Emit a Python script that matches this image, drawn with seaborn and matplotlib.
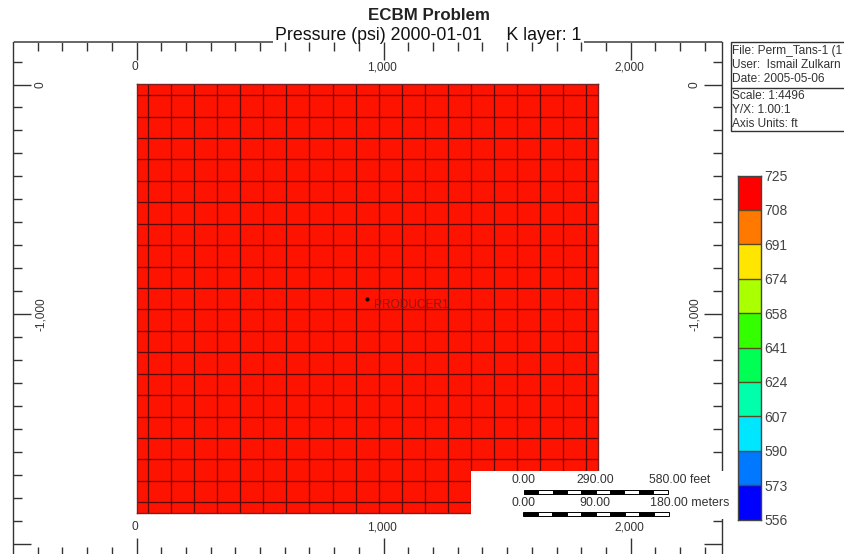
import numpy as np
import matplotlib
matplotlib.use("Agg")
import matplotlib.pyplot as plt
from matplotlib.colors import ListedColormap, BoundaryNorm
from matplotlib.patches import Rectangle
from matplotlib.ticker import MultipleLocator
import seaborn as sns

# ---- data ----
title_line1 = "ECBM Problem"
title_line2 = "Pressure (psi) 2000-01-01     K layer: 1"
legend_levels = [725, 708, 691, 674, 658, 641, 624, 607, 590, 573, 556]
legend_colors = ["#ff0000", "#ff7800", "#ffe600", "#aaff00", "#33ff00",
                 "#00ff55", "#00ffaa", "#00e6ff", "#0078ff", "#0000ff"]
grid_cells = 20              # blocks per side
grid_block_ft = 93.33        # block size, ft
block_pressure = 725         # uniform initial pressure
well_name = "PRODUCER1"
well_x = [933]
well_y = [-933]
x_major = [0, 1000, 2000]
y_major = [0, -1000]
info_top = ["File: Perm_Tans-1 (1", "User:  Ismail Zulkarn", "Date: 2005-05-06"]
info_bottom = ["Scale: 1:4496", "Y/X: 1.00:1", "Axis Units: ft"]
feet_labels = ["0.00", "290.00", "580.00 feet"]
meter_labels = ["0.00", "90.00", "180.00 meters"]
scale_segments = 10

W, H = 844, 554
sns.set_theme(style="white")
plt.rcParams["font.family"] = ["Liberation Sans", "DejaVu Sans"]
fig = plt.figure(figsize=(W / 100, H / 100), dpi=100, facecolor="white")


def axpos(x0, y0, x1, y1):
    return [x0 / W, 1 - y1 / H, (x1 - x0) / W, (y1 - y0) / H]


# ---- framed map axes (feet) ----
GREY = "#333333"
L, R, T, B = 13.5, 721.5, 42.0, 556.0
sx, sy = 0.2471, 0.2296
ax = fig.add_axes(axpos(L, T, R, B))
ax.set_facecolor("white")
ax.set_xlim((L - 136.5) / sx, (R - 136.5) / sx)
ax.set_ylim((84.5 - B) / sy, (84.5 - T) / sy)
ax.xaxis.set_major_locator(MultipleLocator(1000))
ax.xaxis.set_minor_locator(MultipleLocator(100))
ax.yaxis.set_major_locator(MultipleLocator(1000))
ax.yaxis.set_minor_locator(MultipleLocator(100))
ax.tick_params(which="major", direction="in", length=13, width=1, color=GREY,
               top=True, bottom=True, left=True, right=True,
               labelbottom=False, labelleft=False)
ax.tick_params(which="minor", direction="in", length=6.3, width=1, color=GREY,
               top=True, bottom=True, left=True, right=True)
for s in ax.spines.values():
    s.set_color(GREY)
    s.set_linewidth(1)
ax.spines["top"].set_visible(False)
ymax = ax.get_ylim()[1]
xmin, xmax = ax.get_xlim()
gap = ((273 - 136.5) / sx, (584 - 136.5) / sx)
ax.hlines(ymax, xmin, gap[0], color="#666666", lw=1.4, clip_on=False)
ax.hlines(ymax, gap[1], xmax, color="#666666", lw=1.4, clip_on=False)

tick_txt = dict(fontsize=8.6, color="#333333", ha="center", va="center",
                textcoords="offset pixels", annotation_clip=False)
for v in x_major:
    ax.annotate(f"{v:,}", xy=(v, 1), xycoords=("data", "axes fraction"),
                xytext=(-1.5, -25), **tick_txt)
    ax.annotate(f"{v:,}", xy=(v, 0), xycoords=("data", "axes fraction"),
                xytext=(-1.5, 29), **tick_txt)
for v in y_major:
    ax.annotate(f"{v:,}", xy=(0, v), xycoords=("axes fraction", "data"),
                xytext=(27, 0), rotation=90, **tick_txt)
    ax.annotate(f"{v:,}", xy=(1, v), xycoords=("axes fraction", "data"),
                xytext=(-26.5, 0), rotation=90, **tick_txt)

# ---- simulation grid: half-block rim, drawn on half-block heatmap cells ----
extent = grid_cells * grid_block_ft
gax = ax.inset_axes([0, -extent, extent, extent], transform=ax.transData)
field = np.full((2 * grid_cells, 2 * grid_cells), block_pressure, dtype=float)
sns.heatmap(field, ax=gax, cmap=ListedColormap(["#fe1200"]), cbar=False,
            xticklabels=False, yticklabels=False)
lines = np.arange(1, 2 * grid_cells, 2)
gax.vlines(lines, 0, 2 * grid_cells, color="#5a0a0a", lw=0.9)
gax.hlines(lines, 0, 2 * grid_cells, color="#5a0a0a", lw=0.9)
for s in gax.spines.values():
    s.set_visible(True)
    s.set_color("#7a2020")
    s.set_linewidth(1)

# well on a transparent twin covering the same feet coordinates
wax = fig.add_axes(ax.get_position(), facecolor="none")
wax.set_xlim(ax.get_xlim())
wax.set_ylim(ax.get_ylim())
wax.axis("off")
sns.scatterplot(x=well_x, y=well_y, ax=wax, color="#200000", s=9, linewidth=0,
                legend=False)
wax.annotate(well_name, xy=(well_x[0], well_y[0]), xytext=(6.5, -6),
             textcoords="offset pixels", fontsize=8.6, color="#8a1818",
             ha="left", va="center")

# ---- colour legend ----
lax = fig.add_axes(axpos(738, 175.5, 760.5, 519.5))
mids = np.array([(a + b) / 2 for a, b in zip(legend_levels[:-1], legend_levels[1:])]).reshape(-1, 1)
norm = BoundaryNorm(legend_levels[::-1], len(legend_colors))
sns.heatmap(mids, ax=lax, cmap=ListedColormap(legend_colors[::-1]), norm=norm,
            cbar=False, linewidths=0, xticklabels=False)
lax.hlines(np.arange(1, len(legend_colors)), 0, 1, color="#5a4a20", lw=1)
lax.yaxis.tick_right()
lax.set_yticks(np.arange(len(legend_levels)))
lax.set_yticklabels(legend_levels, rotation=0, fontsize=10, color="#444444")
lax.tick_params(axis="y", length=0, pad=2.6, right=False)
for s in lax.spines.values():
    s.set_visible(True)
    s.set_color("#444444")
    s.set_linewidth(1)

# ---- overlay in pixel coordinates: titles, info box, scale bars ----
ov = fig.add_axes([0, 0, 1, 1], facecolor="none")
ov.set_xlim(0, W)
ov.set_ylim(H, 0)
ov.axis("off")
ov.text(429, 15, title_line1, fontsize=12.2, fontweight="bold", color="#222222",
        ha="center", va="center")
ov.text(428.5, 35, title_line2, fontsize=12.8, color="#111111", ha="center", va="center")

ov.add_patch(Rectangle((730.5, 42), 130, 89, fc="white", ec=GREY, lw=1, clip_on=True))
ov.plot([730.5, 844], [87.5, 87.5], color=GREY, lw=1)
for y, t in zip([51, 64.5, 78.5], info_top):
    ov.text(732, y, t, fontsize=8.6, color="#333333", va="center")
for y, t in zip([96, 110, 124], info_bottom):
    ov.text(732, y, t, fontsize=8.6, color="#333333", va="center")

ov.add_patch(Rectangle((471, 471), 259, 48, fc="white", ec="none"))


def scalebar(x0, x1, y):
    edges = np.linspace(x0, x1, scale_segments + 1)
    for i in range(scale_segments):
        ov.add_patch(Rectangle((edges[i], y), edges[i + 1] - edges[i], 4,
                               fc="black" if i % 2 == 0 else "white",
                               ec="black", lw=0.7))


scalebar(524, 667.5, 490)
scalebar(523, 668.5, 512)
for x, t, ha in zip([524, 595, 649], feet_labels, ["center", "center", "left"]):
    ov.text(x, 480, t, fontsize=8.8, color="#333333", ha=ha, va="center")
for x, t, ha in zip([523, 595, 650], meter_labels, ["center", "center", "left"]):
    ov.text(x, 503, t, fontsize=8.9, color="#333333", ha=ha, va="center")

fig.savefig("out.png", dpi=100, facecolor="white")
